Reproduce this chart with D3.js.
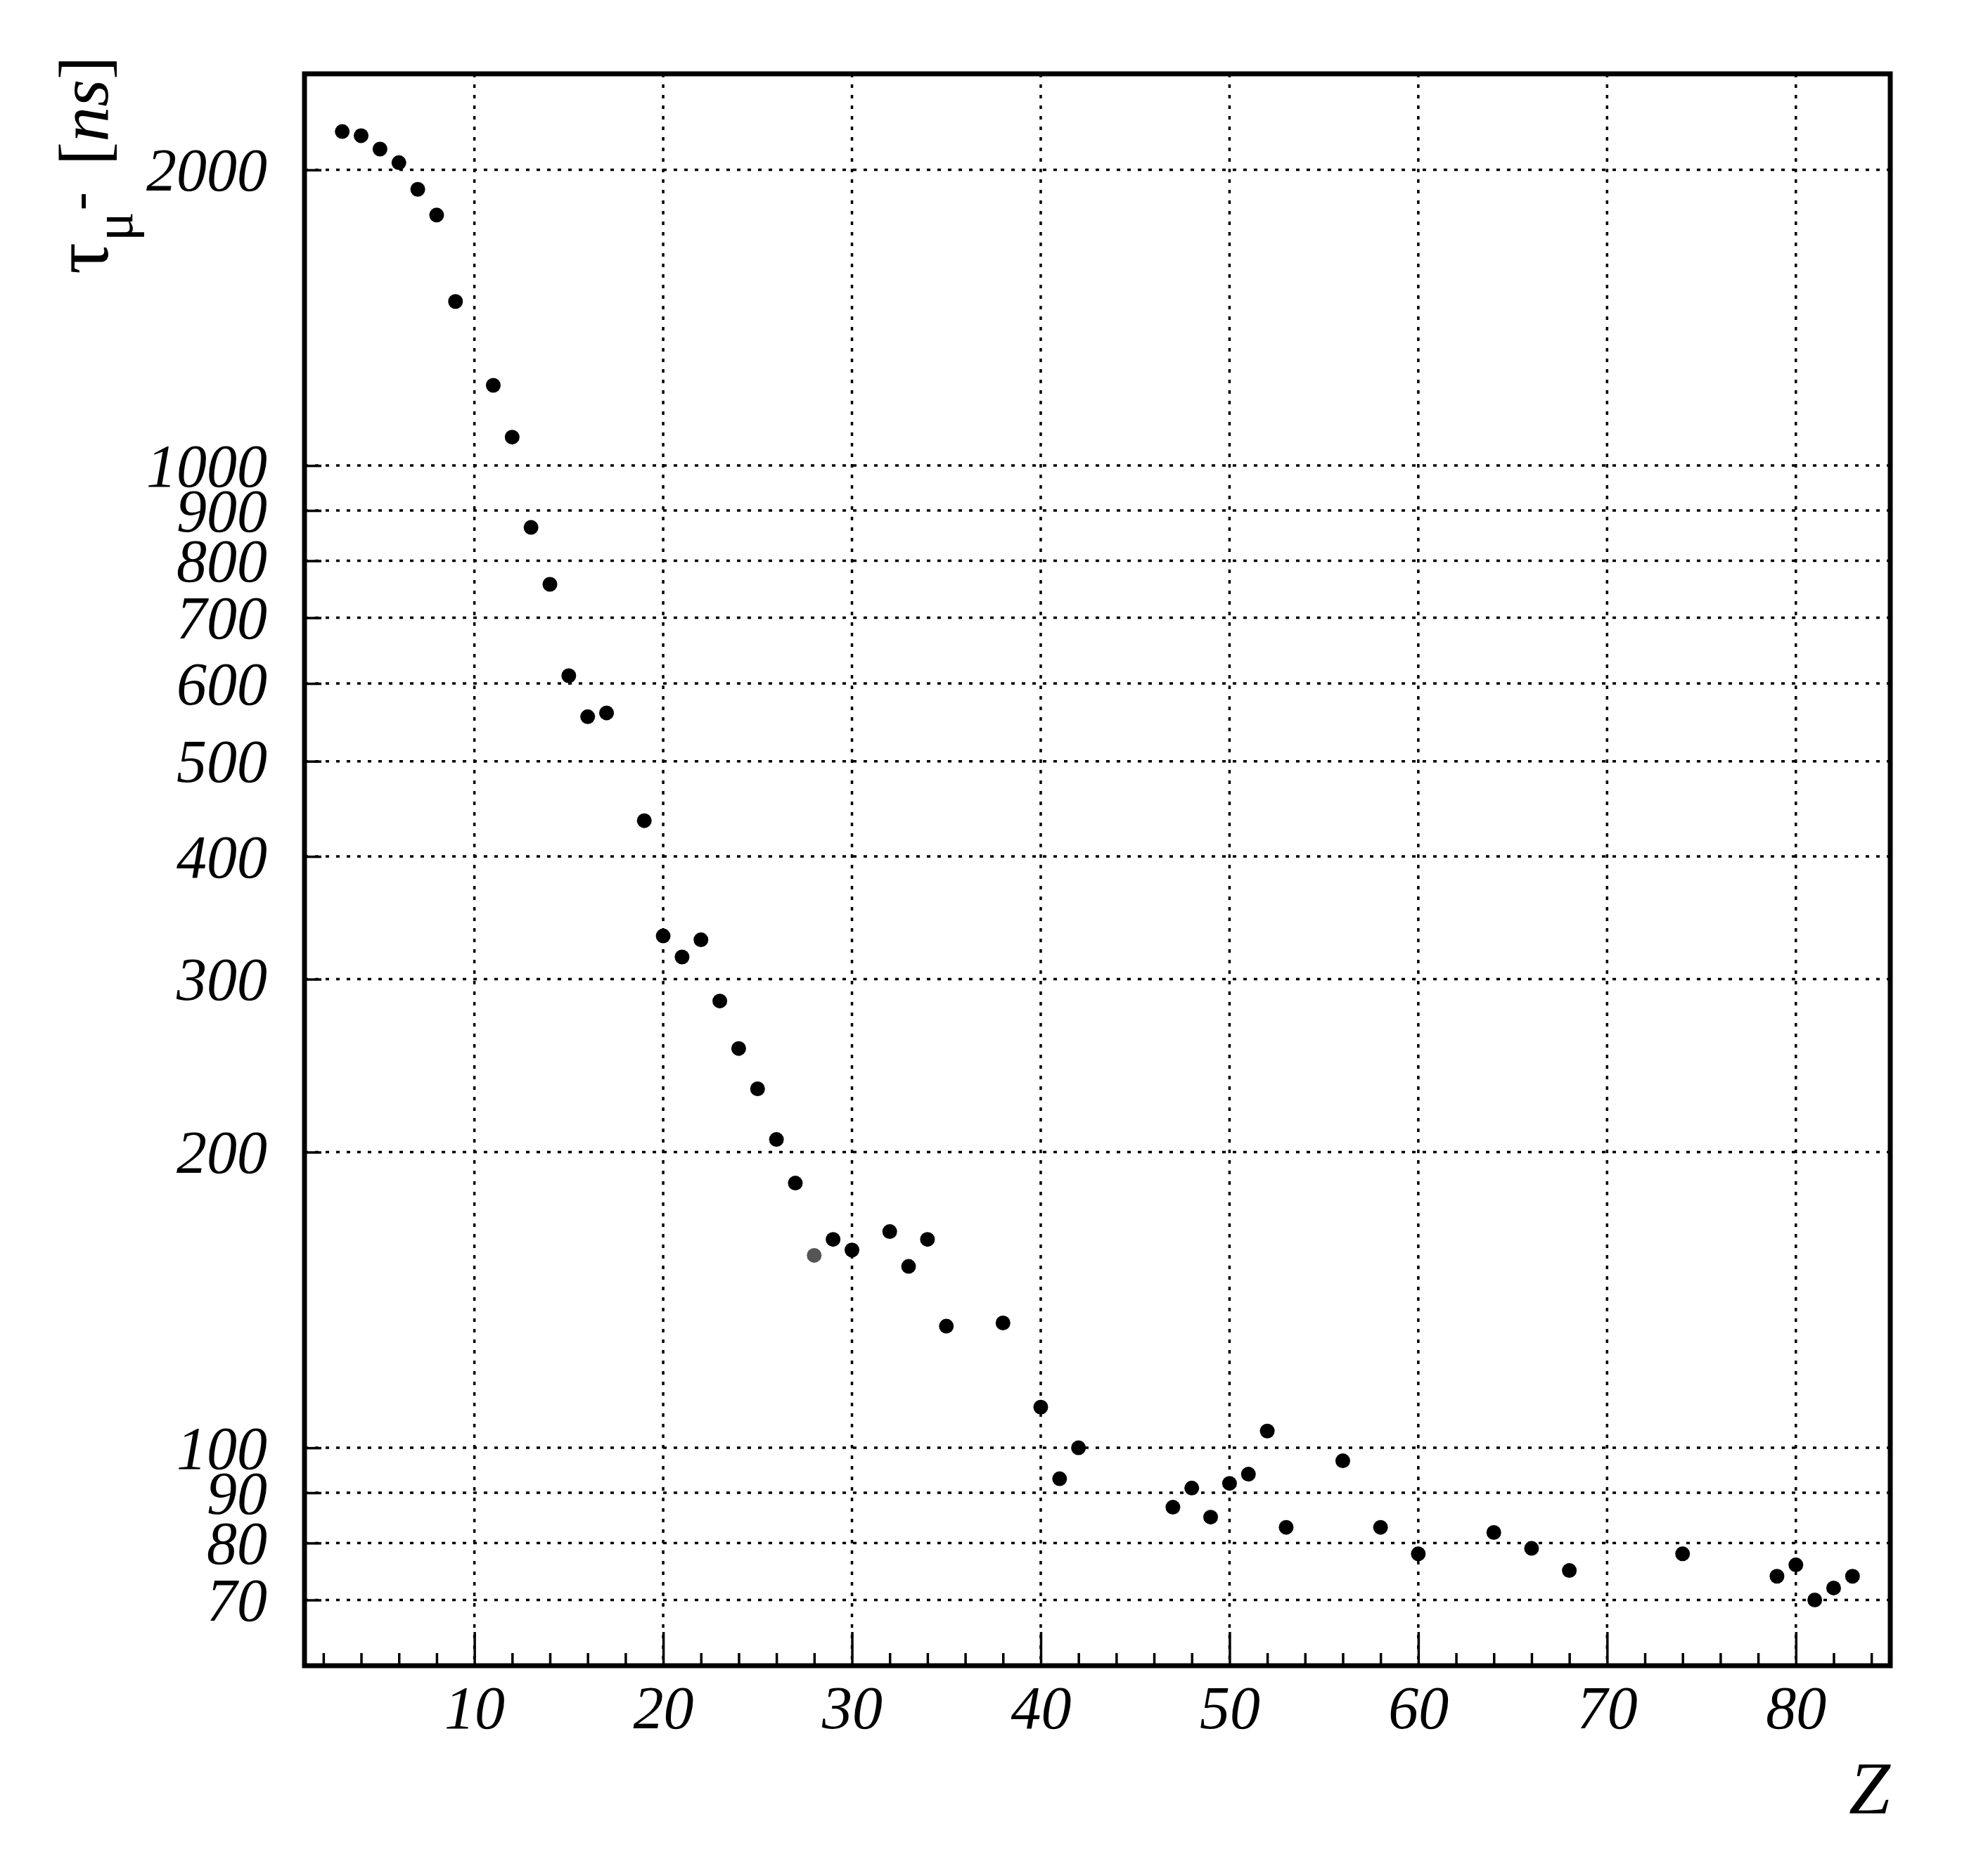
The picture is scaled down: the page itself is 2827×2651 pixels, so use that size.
<!DOCTYPE html>
<html>
<head>
<meta charset="utf-8">
<script src="https://cdn.jsdelivr.net/npm/d3@7"></script>
<style>
  html, body { margin: 0; padding: 0; background: #fff; }
  svg { display: block; }
</style>
</head>
<body>
<svg id="chart" width="2827" height="2651"></svg>
<script>
// ---- Data ----
const Z = [3,4,5,6,7,8,9,11,12,13,14,15,16,17,19,20,21,22,23,24,25,26,27,28,29,30,32,33,34,35,38,40,41,42,47,48,49,50,51,52,53,56,58,60,64,66,68,74,79,80,81,82,83];
const tau = [2188,2167,2100,2034,1911,1799,1469,1207,1069,865,757,611,555,560,435,332,316,329,285,255,232,206,186,157,163,159,166,153,163,133,134,110,93,100,87,91,85,92,94,104,83,97,83,78,82,79,75,78,74,76,70,72,74];
const greyZ = [28];

const xTickValues = [10,20,30,40,50,60,70,80];
const xMinorTickValues = [2,4,6,8,12,14,16,18,22,24,26,28,32,34,36,38,42,44,46,48,52,54,56,58,62,64,66,68,72,74,76,78,82,84];
const yTickValues = [70,80,90,100,200,300,400,500,600,700,800,900,1000,2000];

const xDomain = [1, 85];
const yDomain = [60, 2505];

// ---- Layout ----
const L = 433, R = 2688, T = 105, B = 2369;
const svg = d3.select("#chart");
const x = d3.scaleLinear().domain(xDomain).range([L, R]);
const y = d3.scaleLog().domain(yDomain).range([B, T]);

const FONT = "'Liberation Serif', 'Times New Roman', serif";

// grid lines
const grid = svg.append("g").attr("stroke", "#000").attr("stroke-width", 3.5)
  .attr("stroke-dasharray", "5,10").attr("fill", "none");
grid.selectAll("line.v").data(xTickValues).enter().append("line")
  .attr("x1", d => x(d)).attr("x2", d => x(d)).attr("y1", T).attr("y2", B);
grid.selectAll("line.h").data(yTickValues).enter().append("line")
  .attr("y1", d => y(d)).attr("y2", d => y(d)).attr("x1", L).attr("x2", R);

// bottom axis (major, with labels)
const xAxis = svg.append("g").attr("transform", `translate(0,${B})`)
  .call(d3.axisBottom(x).tickValues(xTickValues).tickSize(-48).tickPadding(28).tickFormat(d3.format("d")));
// bottom minor ticks
const xAxisMinor = svg.append("g").attr("transform", `translate(0,${B})`)
  .call(d3.axisBottom(x).tickValues(xMinorTickValues).tickSize(-18).tickFormat(""));
// left axis
const yAxis = svg.append("g").attr("transform", `translate(${L},0)`)
  .call(d3.axisLeft(y).tickValues(yTickValues).tickSize(-24).tickPadding(53).tickFormat(d3.format("d")));

[xAxis, xAxisMinor, yAxis].forEach(g => {
  g.select(".domain").remove();
  g.selectAll(".tick line").attr("stroke", "#000").attr("stroke-width", 3.5);
  g.selectAll(".tick text").attr("fill", "#000")
    .style("font-family", FONT).style("font-style", "italic").style("font-size", "86px");
});
yAxis.selectAll(".tick text").attr("dy", "0.34em");

// frame
svg.append("rect").attr("x", L).attr("y", T).attr("width", R - L).attr("height", B - T)
  .attr("fill", "none").attr("stroke", "#000").attr("stroke-width", 7);

// points
svg.append("g").selectAll("circle").data(Z.map((z, i) => ({z, t: tau[i]}))).enter()
  .append("circle")
  .attr("cx", d => x(d.z)).attr("cy", d => y(d.t)).attr("r", 10.5)
  .attr("fill", d => greyZ.includes(d.z) ? "#555" : "#000");

// x title
svg.append("text").attr("x", R).attr("y", 2579).attr("text-anchor", "end")
  .style("font-family", FONT).style("font-style", "italic").style("font-size", "106px")
  .text("Z");

// y title (rotated)
const yt = svg.append("text").attr("transform", "translate(153,390) rotate(-90)")
  .attr("text-anchor", "start").style("font-family", FONT).style("font-size", "100px").attr("fill", "#000");
yt.append("tspan").style("font-size", "112px").text("τ");
yt.append("tspan").attr("dy", 35).attr("dx", 2).style("font-size", "78px").text("μ");
yt.append("tspan").attr("dy", -50).attr("dx", 2).style("font-size", "78px").text("-");
yt.append("tspan").attr("dy", 15).attr("dx", 38).text("[");
yt.append("tspan").style("font-style", "italic").text("ns");
yt.append("tspan").text("]");
</script>
</body>
</html>
